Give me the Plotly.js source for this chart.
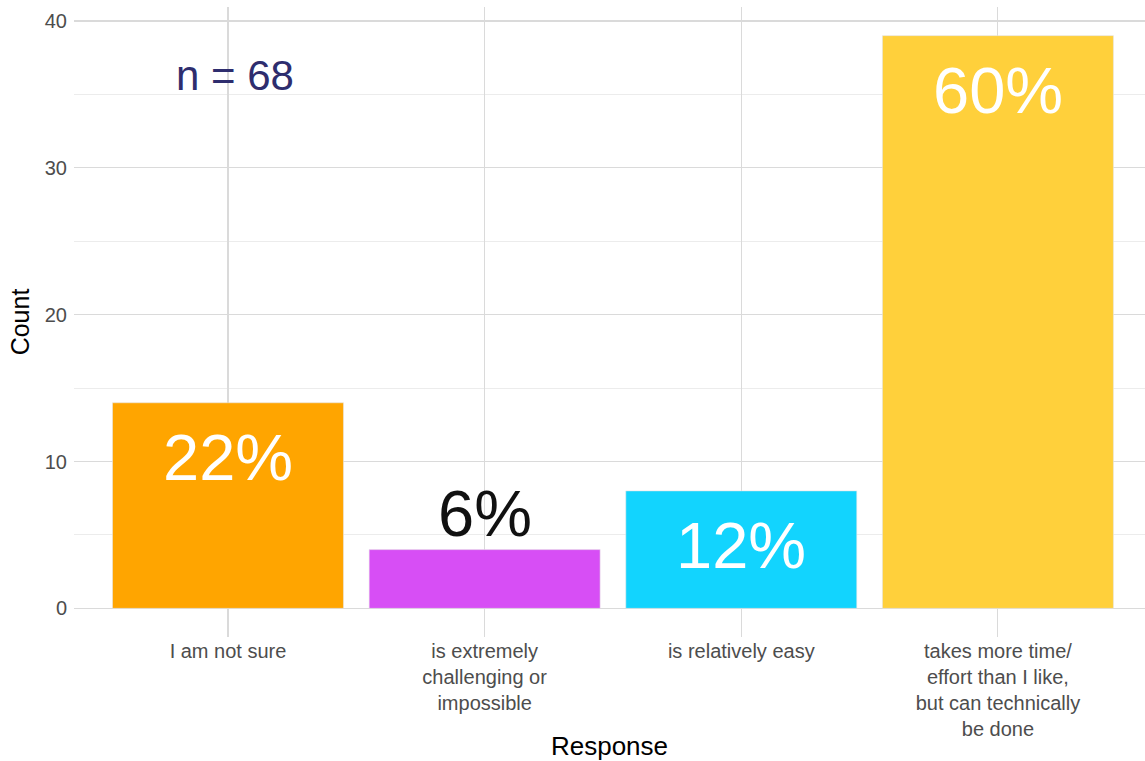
<!DOCTYPE html>
<html><head><meta charset="utf-8">
<script src="https://cdn.plot.ly/plotly-3.0.1.min.js"></script>
<style>html,body{margin:0;padding:0;background:#fff}#chart{width:1145px;height:761px}</style>
</head><body><div id="chart"></div>
<script>
const categories = ["I am not sure", "is extremely challenging or impossible", "is relatively easy", "takes more time/ effort than I like, but can technically be done"];
const tickLabels = ["I am not sure", "is extremely<br>challenging or<br>impossible", "is relatively easy", "takes more time/<br>effort than I like,<br>but can technically<br>be done"];
const counts = [14, 4, 8, 39];
const percentLabels = ["22%", "6%", "12%", "60%"];
const barColors = ["#FFA500", "#D74EF5", "#12D4FE", "#FFD03B"];
const sampleLabel = "n = 68";

const FONT = "Liberation Sans, Arial, sans-serif";
const annotations = categories.map((c, i) => {
  const inside = counts[i] >= 6;
  return {
    x: c, y: inside ? counts[i] - 3.75 : counts[i] + 2.45,
    xref: 'x', yref: 'y', text: percentLabels[i], showarrow: false,
    xanchor: 'center', yanchor: 'middle',
    font: {family: FONT, size: 65, color: inside ? '#ffffff' : '#111111'}
  };
});
annotations.push({
  x: categories[0], xshift: 7, y: 36.3, xref: 'x', yref: 'y', text: sampleLabel,
  showarrow: false, xanchor: 'center', yanchor: 'middle',
  font: {family: FONT, size: 42, color: '#2E2D6E'}
});

const trace = {
  type: 'bar', x: categories, y: counts, width: 0.9,
  marker: {color: barColors, line: {color: '#e6e6e6', width: 0.6}},
  hoverinfo: 'skip'
};

const layout = {
  width: 1145, height: 761,
  margin: {l: 74, r: 0, t: 7, b: 124},
  paper_bgcolor: '#fff', plot_bgcolor: '#fff',
  showlegend: false,
  font: {family: FONT},
  xaxis: {
    type: 'category', range: [-0.6, 3.573],
    tickvals: categories, ticktext: tickLabels,
    showgrid: true, gridcolor: '#dadada', gridwidth: 1.1,
    zeroline: false, showline: false, ticks: '',
    tickfont: {family: FONT, size: 20, color: '#4d4d4d'},
    title: {text: 'Response', font: {family: FONT, size: 26, color: '#000'}, standoff: 8},
    fixedrange: true
  },
  yaxis: {
    range: [-1.95, 40.95], tickvals: [0, 10, 20, 30, 40],
    showgrid: true, gridcolor: '#dadada', gridwidth: 1.1,
    minor: {tickvals: [5, 15, 25, 35], showgrid: true, gridcolor: '#ececec', gridwidth: 1},
    zeroline: false, showline: false, ticks: '', ticklabelstandoff: 6,
    tickfont: {family: FONT, size: 20, color: '#4d4d4d'},
    title: {text: 'Count', font: {family: FONT, size: 25, color: '#000'}, standoff: 8},
    fixedrange: true
  },
  annotations: annotations,
  bargap: 0.1
};

Plotly.newPlot('chart', [trace], layout, {displayModeBar: false, staticPlot: true});
</script>
</body></html>
